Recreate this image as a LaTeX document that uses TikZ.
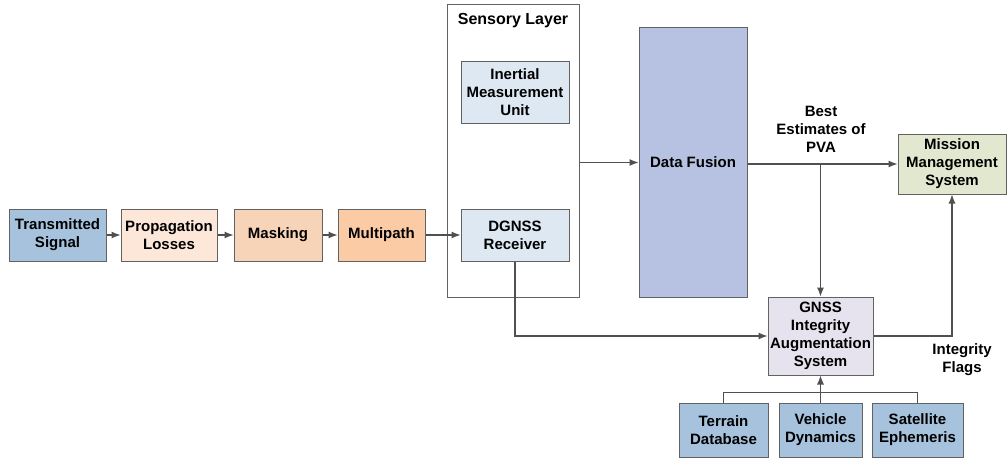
\documentclass[tikz,border=0pt]{standalone}
\usepackage{fontspec}
\setmainfont{Liberation Sans}
\usetikzlibrary{arrows.meta}

\definecolor{boxline}{HTML}{626262}
\definecolor{linecol}{HTML}{505050}
\definecolor{sigblue}{HTML}{A6C2DC}
\definecolor{proppeach}{HTML}{FCE7D9}
\definecolor{maskpeach}{HTML}{F7D4B8}
\definecolor{multipeach}{HTML}{FBCBA6}
\definecolor{sensorblue}{HTML}{DDE8F2}
\definecolor{fusionblue}{HTML}{B7C1E1}
\definecolor{missiongreen}{HTML}{E2E8D0}
\definecolor{integlilac}{HTML}{E7E3EE}

\begin{document}
\begin{tikzpicture}[x=1pt,y=-1pt,
  box/.style={draw=boxline, line width=1pt, align=center, inner sep=0pt,
    font=\bfseries\fontsize{15}{18}\selectfont},
  lbl/.style={align=center, inner sep=0pt, font=\bfseries\fontsize{15}{18}\selectfont},
  conn/.style={draw=linecol, line width=1.1pt},
  arr/.style={conn, -{Latex[length=9pt,width=7pt]}},
]
\useasboundingbox (0,0) rectangle (1007,460);

% signal chain
\node[box, fill=sigblue, minimum width=97pt, minimum height=52pt] (ts) at (57.5,235) {Transmitted\\Signal};
\node[box, fill=proppeach, minimum width=96pt, minimum height=52pt] (pl) at (169,235) {Propagation\\Losses};
\node[box, fill=maskpeach, minimum width=88pt, minimum height=52pt] (mk) at (278,235) {Masking};
\node[box, fill=multipeach, minimum width=87pt, minimum height=52pt] (mp) at (381.5,235) {Multipath};

% sensory layer
\node[box, fill=white, minimum width=132pt, minimum height=292pt] (sl) at (513,151) {};
\node[lbl, font=\bfseries\fontsize{16}{19}\selectfont] (slt) at (513,21) {Sensory Layer};
\node[box, fill=sensorblue, minimum width=108pt, minimum height=61pt] (imu) at (515,92.5) {Inertial\\Measurement\\Unit};
\node[box, fill=sensorblue, minimum width=108pt, minimum height=52pt] (dg) at (515,235) {DGNSS\\Receiver};

% fusion and outputs
\node[box, fill=fusionblue, minimum width=108pt, minimum height=269pt] (df) at (693,162.5) {Data Fusion};
\node[box, fill=missiongreen, minimum width=108pt, minimum height=60pt] (mms) at (952,164) {Mission\\Management\\System};
\node[box, fill=integlilac, minimum width=105pt, minimum height=78pt] (gias) at (820.5,336) {GNSS\\Integrity\\Augmentation\\System};

% data sources
\node[box, fill=sigblue, minimum width=89pt, minimum height=54pt] (td) at (723.5,430) {Terrain\\Database};
\node[box, fill=sigblue, minimum width=83pt, minimum height=54pt] (vd) at (820.5,430) {Vehicle\\Dynamics};
\node[box, fill=sigblue, minimum width=91pt, minimum height=54pt] (se) at (917.5,430) {Satellite\\Ephemeris};

% labels
\node[lbl] (pva) at (821,129.5) {Best\\Estimates of\\PVA};
\node[lbl] (flags) at (962,360) {Integrity\\Flags};

% connectors
\draw[arr] (ts.east) -- (pl.west);
\draw[arr] (pl.east) -- (mk.west);
\draw[arr] (mk.east) -- (mp.west);
\draw[arr] (mp.east) -- (dg.west);
\draw[arr] (sl.east |- df.west) -- (df.west);
\draw[arr] (df.east |- mms.west) -- (mms.west);
\coordinate (br) at (gias.north |- mms.west);
\draw[arr] (br) -- (gias.north);
\draw[arr] (dg.south) |- (gias.west);
\draw[arr] (gias.east) -| (mms.south);
\draw[arr] (vd.north) -- (gias.south);
\draw[conn] (td.north) -- ++(0,-10) -| (se.north);
\end{tikzpicture}
\end{document}
